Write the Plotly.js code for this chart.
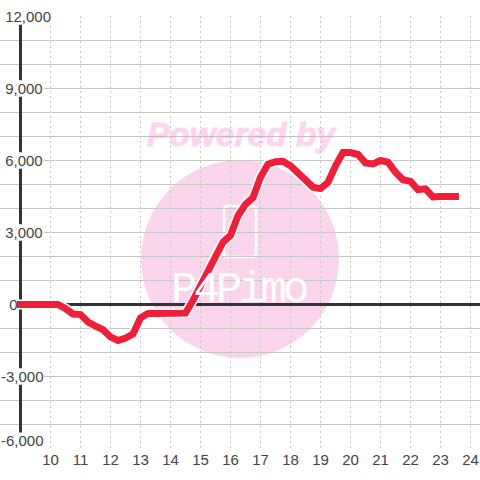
<!DOCTYPE html>
<html><head><meta charset="utf-8">
<script src="https://cdn.plot.ly/plotly-3.0.1.min.js"></script>
<style>html,body{margin:0;padding:0;background:#fff}#c{width:480px;height:480px}
.scatterlayer .js-line{stroke-linecap:square !important}
.annotation[data-index="0"] text{stroke:rgb(248,120,200);stroke-width:1px}
.annotation[data-index="1"] text{letter-spacing:-4px}</style>
</head><body><div id="c"></div>
<script>
var times = [9,9.25,9.5,9.75,10,10.25,10.5,10.75,11,11.25,11.5,11.75,12,12.25,12.5,12.75,13,13.25,13.5,13.75,14,14.25,14.5,14.75,15,15.25,15.5,15.75,16,16.25,16.5,16.75,17,17.25,17.5,17.75,18,18.25,18.5,18.75,19,19.25,19.5,19.75,20,20.25,20.5,20.75,21,21.25,21.5,21.75,22,22.25,22.5,22.75,23,23.25,23.5];
var values = [0,0,0,0,0,0,-170,-400,-420,-730,-900,-1050,-1350,-1500,-1400,-1230,-560,-370,-370,-370,-370,-370,-360,170,790,1420,2040,2600,2880,3700,4170,4450,5300,5850,5950,5970,5780,5450,5170,4890,4830,5090,5780,6330,6330,6250,5900,5860,6000,5930,5510,5200,5130,4790,4820,4480,4500,4500,4500];
var xTicks = [10,11,12,13,14,15,16,17,18,19,20,21,22,23,24];
var yGrid = [12000,11000,10000,9000,8000,7000,6000,5000,4000,3000,2000,1000,-1000,-2000,-3000,-4000,-5000,-6000];
var yLabelAt = [12000,9000,6000,3000,0,-3000,-5670];
var yTickLabels = ['\u00a012,000','\u00a09,000','\u00a06,000','\u00a03,000','\u00a0\u00a00','-3,000','-6,000'];
var labelRight = [53,44,44,44,18,44,46];

function X(px){return 10+(px-50.5)/30;}
function Y(px){return (304.5-px)/0.024;}
var pink='#fbd5ec';
var shapes=[
 {type:'circle',layer:'below',xref:'x',yref:'y',x0:X(141),x1:X(339),y0:Y(358),y1:Y(160),fillcolor:pink,line:{width:0}},
 {type:'path',layer:'below',xref:'x',yref:'y',
  path:'M'+X(228)+','+Y(206)+' Q'+X(224)+','+Y(206)+' '+X(224)+','+Y(210)+' L'+X(224)+','+Y(253)+' Q'+X(224)+','+Y(257)+' '+X(228)+','+Y(257)+' L'+X(252)+','+Y(257)+' Q'+X(256)+','+Y(257)+' '+X(256)+','+Y(253)+' L'+X(256)+','+Y(210)+' Q'+X(256)+','+Y(206)+' '+X(252)+','+Y(206)+' Z',
  line:{color:'#ffffff',width:2.5},fillcolor:'rgba(0,0,0,0)'},
 {type:'line',layer:'between',xref:'x',yref:'y',x0:9,x1:9,y0:-6000,y1:12000,line:{color:'#333333',width:3}}
];
yLabelAt.forEach(function(v,i){
 shapes.push({type:'rect',layer:'between',xref:'x',yref:'y',x0:X(0),x1:X(labelRight[i]),y0:v-(i==6?560:340),y1:v+340,fillcolor:'#ffffff',line:{width:0}});
});

var data=[
 {x:times,y:values,type:'scatter',mode:'lines',line:{color:'#ffffff',width:10},hoverinfo:'skip'},
 {x:times,y:values,type:'scatter',mode:'lines',line:{color:'#ee1f38',width:7},hoverinfo:'skip'}];
var layout={
 width:480,height:480,margin:{l:0,r:0,t:16,b:31,pad:0},
 paper_bgcolor:'#ffffff',plot_bgcolor:'rgba(0,0,0,0)',showlegend:false,
 font:{family:'"Liberation Sans",Arial,sans-serif',size:15,color:'#444444'},
 xaxis:{range:[X(0),X(480)],tickmode:'array',tickvals:xTicks,ticktext:xTicks.map(String),ticks:'',ticklen:0,
  showgrid:true,gridcolor:'#c8c8c8',gridwidth:1.2,griddash:'2px,3px',zeroline:false,showline:false,tickfont:{size:15,color:'#444444'},automargin:false},
 yaxis:{range:[Y(449),Y(16)],tickmode:'array',tickvals:yLabelAt,ticktext:yTickLabels,ticklabelposition:'inside',ticklabeloverflow:'allow',ticks:'',ticklabelstandoff:-2,
  showgrid:false,zeroline:true,zerolinecolor:'#333333',zerolinewidth:3,showline:false,automargin:false,
  minor:{tickmode:'array',tickvals:yGrid,showgrid:true,gridcolor:'#c6c6c6',gridwidth:1.4,griddash:'solid',ticks:''},
  tickfont:{size:15,color:'#444444'}},
 shapes:shapes,
 annotations:[
  {text:'<b><i>Powered by</i></b>',xref:'x',yref:'y',x:X(242),y:Y(134),showarrow:false,opacity:0.3,font:{family:'"Liberation Sans",Arial,sans-serif',size:33.5,color:'rgb(248,120,200)'}},
  {text:'P4Pimo',xref:'x',yref:'y',x:X(238),y:Y(290),showarrow:false,font:{family:'"Liberation Mono",monospace',size:44,color:'#ffffff'}}
 ]
};
Plotly.newPlot('c',data,layout,{staticPlot:true,displayModeBar:false});
</script></body></html>
